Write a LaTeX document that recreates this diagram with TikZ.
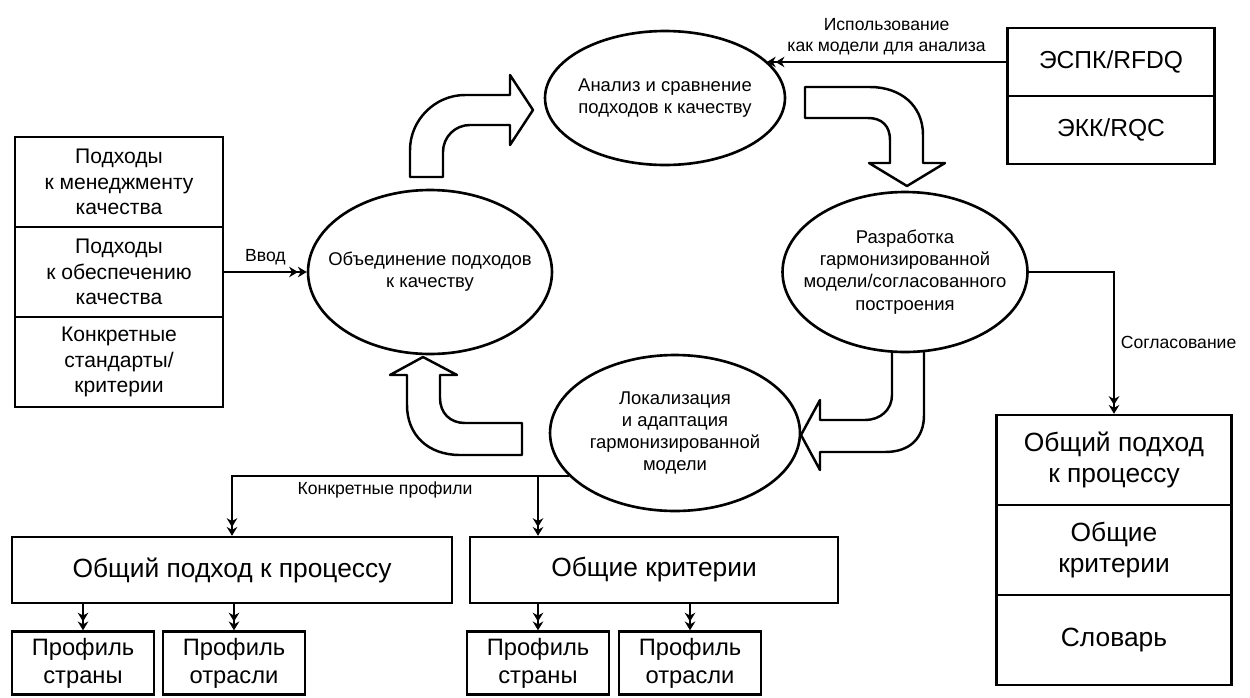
\documentclass[tikz,border=0pt]{standalone}
\usepackage{fontspec}
\setmainfont{Liberation Sans}
\usetikzlibrary{arrows.meta,shapes.geometric}

\tikzset{
  phase/.style={draw, ellipse, line width=1.5pt, fill=white, inner sep=0pt},
  phasetext/.style={align=center, font=\fontsize{10.5}{12.6}\selectfont},
  cell/.style={draw, line width=1.4pt, inner sep=0pt, align=center, minimum width=4.16cm, minimum height=1.8cm, font=\fontsize{12}{14.5}\selectfont},
  refbox/.style={draw, line width=1.4pt, inner sep=0pt, minimum width=4.14cm, minimum height=1.36cm, font=\fontsize{14}{16}\selectfont},
  outcell/.style={draw, line width=1.4pt, inner sep=0pt, align=center, minimum width=4.7cm, minimum height=1.8cm, font=\fontsize{15}{18}\selectfont},
  widebox/.style={draw, line width=1.4pt, inner sep=0pt, minimum height=1.32cm, font=\fontsize{15}{18}\selectfont},
  profile/.style={draw, line width=1.4pt, inner sep=0pt, align=center, minimum width=2.84cm, minimum height=1.26cm, font=\fontsize{13.5}{16}\selectfont},
  conn/.style={line width=1.1pt, -{Stealth[length=5pt,width=6pt]Stealth[length=5pt,width=6pt]}},
  bent/.style={line width=1.4pt, fill=white, line join=round},
  note/.style={align=center, font=\fontsize{10}{12}\selectfont}
}

\begin{document}
\begin{tikzpicture}[x=0.02cm, y=-0.02cm]

  \useasboundingbox (0,0) rectangle (1250,697);

  % bent arrows of the cycle
  \draw[bent] (410,177) -- (410,150) .. controls (410,120) and (435,95) .. (465,95) -- (510,95) -- (510,75) -- (533,110) -- (510,145) -- (510,125) -- (470,125) .. controls (455,125) and (443,137) .. (443,152) -- (443,177) -- cycle;
  \draw[bent] (805,87) -- (870,87) .. controls (900,87) and (923,105) .. (923,135) -- (923,163) -- (945,163) -- (907,186) -- (869,163) -- (890,163) -- (890,140) .. controls (890,126) and (882,118) .. (868,118) -- (805,118) -- cycle;
  \draw[bent] (924,350) -- (924,415) .. controls (924,438) and (910,452) .. (885,452) -- (820,452) -- (820,470) -- (801,435) -- (820,400) -- (820,420) -- (865,420) .. controls (880,420) and (892,410) .. (892,395) -- (892,350) -- cycle;
  \draw[bent] (522,423) -- (465,423) .. controls (450,423) and (440,413) .. (440,398) -- (440,375) -- (457,375) -- (423,357) -- (390,375) -- (407,375) -- (407,405) .. controls (407,435) and (428,455) .. (460,455) -- (522,455) -- cycle;

  % phases
  \node[phase, minimum width=4.88cm, minimum height=3.28cm, label={[phasetext]center:{Объединение подходов\\к качеству}}] (unite) at (430,272) {};
  \node[phase, minimum width=4.8cm, minimum height=2.68cm, label={[phasetext]center:{Анализ и сравнение\\подходов к качеству}}] (analyse) at (665,98) {};
  \node[phase, minimum width=4.9cm, minimum height=3.2cm, label={[phasetext]center:{Разработка\\гармонизированной\\модели/согласованного\\построения}}] (harmon) at (905,272) {};
  \node[phase, minimum width=5cm, minimum height=3.12cm, label={[phasetext]center:{Локализация\\и адаптация\\гармонизированной\\модели}}] (adapt) at (675,433) {};

  % input stack
  \node[cell] (qm) at (119,182) {Подходы\\к менеджменту\\качества};
  \node[cell] (qa) at (119,272) {Подходы\\к обеспечению\\качества};
  \node[cell] (qs) at (119,362) {Конкретные\\стандарты/\\критерии};

  % reference models
  \node[refbox] (rfdq) at (1111,62) {ЭСПК/RFDQ};
  \node[refbox] (rqc) at (1111,130) {ЭКК/RQC};

  % common output
  \node[outcell] (oproc) at (1114,460) {Общий подход\\к процессу};
  \node[outcell] (ocrit) at (1114,550) {Общие\\критерии};
  \node[outcell] (ovoc) at (1114,640) {Словарь};

  % local output
  \node[widebox, minimum width=8.8cm] (approach) at (232,570) {Общий подход к процессу};
  \node[widebox, minimum width=7.36cm] (criteria) at (654,570) {Общие критерии};
  \foreach \x/\name/\txt in {83/pc1/страны, 234/pi1/отрасли, 538/pc2/страны, 690/pi2/отрасли}
    \node[profile] (\name) at (\x,663) {Профиль\\\txt};

  % connectors
  \draw[conn] (qa.east) -- (unite.west) node[midway, above, note] {Ввод};
  \draw[conn] (rfdq.west) -- (rfdq.west -| analyse.20) node[midway, above, note] {Использование\\как модели для анализа};
  \draw[conn] (harmon.east) -| (oproc.north) node[pos=0.75, right, note] {Согласование};
  \draw[conn] (adapt.202) -| (approach.north);
  \draw[conn] (adapt.202 -| pc2.north) -- (criteria.north -| pc2.north);
  \path (approach.north |- adapt.202) -- (adapt.202 -| pc2.north) node[midway, below, note] {Конкретные профили};
  \foreach \name in {pc1, pi1}
    \draw[conn] (approach.south -| \name.north) -- (\name.north);
  \foreach \name in {pc2, pi2}
    \draw[conn] (criteria.south -| \name.north) -- (\name.north);

\end{tikzpicture}
\end{document}
